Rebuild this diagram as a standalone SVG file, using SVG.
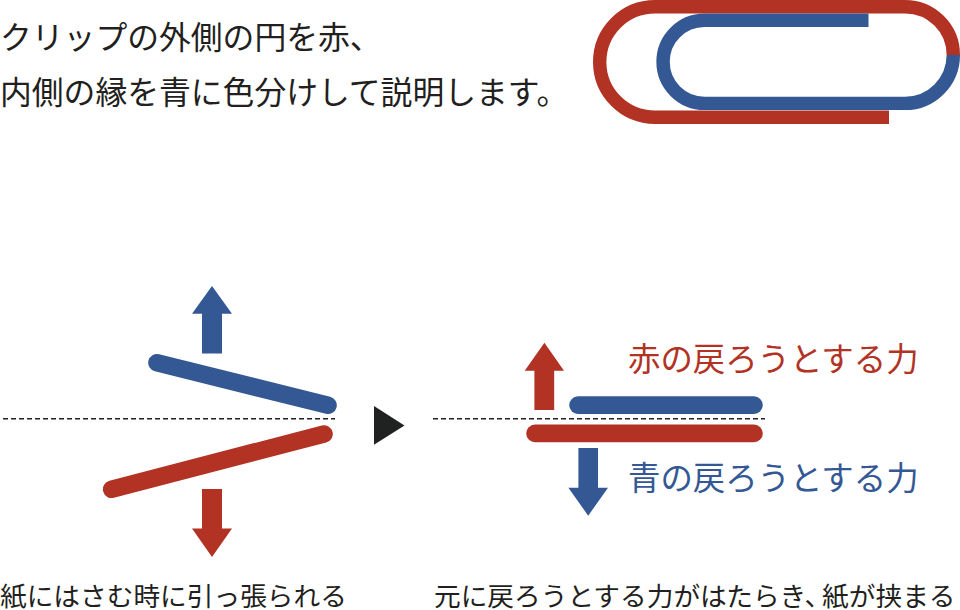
<svg xmlns="http://www.w3.org/2000/svg" width="960" height="610" viewBox="0 0 960 610">
<style>
text{font-family:"Noto Sans CJK JP","Noto Sans",sans-serif;}
.t{font-size:31.8px;fill:#231f20}
.c{font-size:26.7px;fill:#231f20}
.l{font-size:32.4px}
.r{stroke:#b23224;fill:none;stroke-width:17.6;stroke-linecap:round}
.b{stroke:#345894;fill:none;stroke-width:17.6;stroke-linecap:round}
.d{stroke:#231f20;stroke-width:1.5;stroke-dasharray:5 3;fill:none}
</style>
<g id="title"><text class="t" x="0" y="49">クリップの外側の円を赤、</text><text class="t" x="0" y="104">内側の縁を青に色分けして説明します。</text></g>
<g id="clip">
<path d="M889 117.3H655A55.3 55.3 0 0 1 655 6.7H905A48.3 48.3 0 0 1 953.3 55" fill="none" stroke="#b23224" stroke-width="13.4"/>
<path d="M953.3 55A48.3 48.3 0 0 1 905 103.4H704.6A41.55 41.55 0 0 1 704.6 20.3H868.5" fill="none" stroke="#345894" stroke-width="13.4"/>
</g>
<g id="connectors">
<path class="d" d="M3 418.8H335M433 418.8H765"/>
</g>
<g id="left">
<path class="b" d="M157 362.7L328 405.3"/><path class="r" d="M111.7 489.3L324 434"/>
<path fill="#345894" d="M202 353.4V313.8H192L212 286L232 313.8H222V353.4Z"/>
<path fill="#b23224" d="M202 489V528.5H192L212 557L232 528.5H222V489Z"/>
<text class="c" x="0" y="606">紙にはさむ時に引っ張られる</text>
</g>
<path id="next" fill="#202221" d="M374 406L404.5 425.5L374 444.7Z"/>
<g id="right">
<path class="b" d="M578 405.1H754"/><path class="r" d="M535 433.4H754"/>
<path fill="#b23224" d="M534.4 410V370.7H524.7L544.4 342.7L564 370.7H554.2V410Z"/>
<path fill="#345894" d="M578.4 448V487.7H568.4L588.2 515.7L608 487.7H598V448Z"/>
<text class="l" x="628" y="371" fill="#b23224">赤の戻ろうとする力</text>
<text class="l" x="628" y="490" fill="#345894">青の戻ろうとする力</text>
<text class="c" x="434" y="606">元に戻ろうとする力がはたらき、<tspan dx="-9">紙が挟まる</tspan></text>
</g>
</svg>
